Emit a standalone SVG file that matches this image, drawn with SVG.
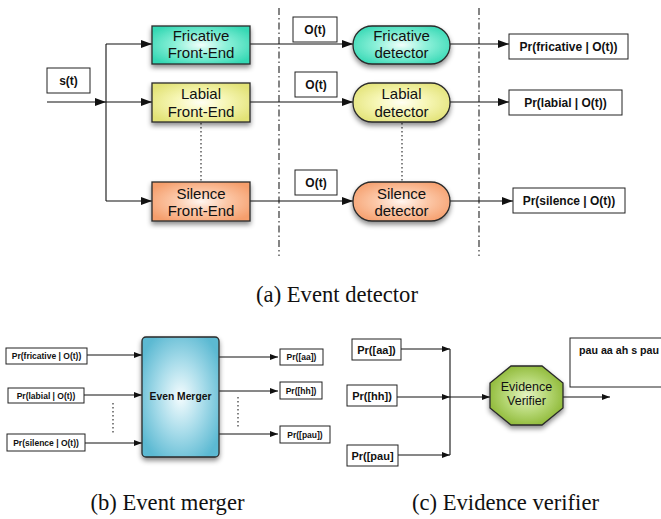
<svg xmlns="http://www.w3.org/2000/svg" width="661" height="519" viewBox="0 0 661 519">
  <style>
    .lbl { font-family: "Liberation Sans", Arial, sans-serif; fill: #111; text-anchor: middle; }
    .big { font-size: 15px; }
    .bold12 { font-size: 12px; font-weight: bold; }
    .bold11 { font-size: 11px; font-weight: bold; }
    .bold8 { font-size: 8.5px; font-weight: bold; }
    .cap { font-family: "Liberation Serif", "Times New Roman", serif; font-size: 22.6px; fill: #111; text-anchor: middle; }
    .tag { fill: #fff; stroke: #222; stroke-width: 1; }
    .shape { stroke: #2a2a2a; stroke-width: 1.3; filter: url(#shadow); }
    .wire { fill: none; stroke: #111; stroke-width: 1.1; }
    .wireA { fill: none; stroke: #111; stroke-width: 1.1; marker-end: url(#arrow); }
    .wireS { fill: none; stroke: #111; stroke-width: 1; marker-end: url(#arrowSmall); }
    .dots { fill: none; stroke: #333; stroke-width: 1.2; stroke-dasharray: 1.5,2.5; }
    .dashdot { fill: none; stroke: #222; stroke-width: 1.1; stroke-dasharray: 7,3,1.5,3; }
  </style>
  <defs>
    <marker id="arrow" markerUnits="userSpaceOnUse" markerWidth="12" markerHeight="10" refX="11" refY="4" orient="auto">
      <path d="M0,0 L11,4 L0,8 z" fill="#111"/>
    </marker>
    <marker id="arrowSmall" markerUnits="userSpaceOnUse" markerWidth="9" markerHeight="8" refX="8" refY="3" orient="auto">
      <path d="M0,0 L8,3 L0,6 z" fill="#111"/>
    </marker>
    <filter id="shadow" x="-20%" y="-20%" width="140%" height="150%">
      <feDropShadow dx="0" dy="3" stdDeviation="2.5" flood-color="#000" flood-opacity="0.45"/>
    </filter>
    <radialGradient id="gTeal" cx="50%" cy="50%" r="60%">
      <stop offset="0" stop-color="#f2fffb"/>
      <stop offset="0.45" stop-color="#8af0d8"/>
      <stop offset="1" stop-color="#36d8b4"/>
    </radialGradient>
    <radialGradient id="gYellow" cx="50%" cy="50%" r="60%">
      <stop offset="0" stop-color="#fffff4"/>
      <stop offset="0.45" stop-color="#f6f6b4"/>
      <stop offset="1" stop-color="#e2e276"/>
    </radialGradient>
    <radialGradient id="gOrange" cx="50%" cy="50%" r="60%">
      <stop offset="0" stop-color="#fff6f0"/>
      <stop offset="0.45" stop-color="#fcc8a8"/>
      <stop offset="1" stop-color="#f59e6c"/>
    </radialGradient>
    <radialGradient id="gBlue" cx="50%" cy="50%" r="60%">
      <stop offset="0" stop-color="#f4fcfe"/>
      <stop offset="0.5" stop-color="#a8dcea"/>
      <stop offset="1" stop-color="#5bb9d2"/>
    </radialGradient>
    <radialGradient id="gGreen" cx="50%" cy="50%" r="60%">
      <stop offset="0" stop-color="#e4f2c2"/>
      <stop offset="0.5" stop-color="#b4d672"/>
      <stop offset="1" stop-color="#86b22a"/>
    </radialGradient>
  </defs>

  <!-- (a) separators between processing stages -->
  <g id="separators">
    <line class="dashdot" x1="279" y1="8" x2="279" y2="256"/>
    <line class="dashdot" x1="479" y1="8" x2="479" y2="256"/>
  </g>

  <g id="connectors">
    <!-- (a) event detector -->
    <line class="wireA" x1="47" y1="102" x2="106" y2="102"/>
    <line class="wire" x1="106" y1="44" x2="106" y2="201"/>
    <line class="wireA" x1="106" y1="44" x2="152" y2="44"/>
    <line class="wireA" x1="106" y1="102" x2="152" y2="102"/>
    <line class="wireA" x1="106" y1="201" x2="152" y2="201"/>
    <line class="wireA" x1="250" y1="44" x2="353" y2="44"/>
    <line class="wireA" x1="250" y1="102" x2="353" y2="102"/>
    <line class="wireA" x1="250" y1="201" x2="353" y2="201"/>
    <line class="wireA" x1="450" y1="44" x2="509" y2="44"/>
    <line class="wireA" x1="450" y1="102" x2="509" y2="102"/>
    <line class="wireA" x1="450" y1="201" x2="513" y2="201"/>
    <line class="dots" x1="201" y1="123" x2="201" y2="182"/>
    <line class="dots" x1="402" y1="123" x2="402" y2="182"/>
    <!-- (b) event merger -->
    <line class="wireS" x1="87" y1="355" x2="142" y2="355"/>
    <line class="wireS" x1="84" y1="395" x2="142" y2="395"/>
    <line class="wireS" x1="85" y1="443" x2="142" y2="443"/>
    <line class="wireS" x1="219" y1="357" x2="278" y2="357"/>
    <line class="wireS" x1="219" y1="391" x2="278" y2="391"/>
    <line class="wireS" x1="219" y1="434" x2="278" y2="434"/>
    <line class="dots" x1="113" y1="403" x2="113" y2="435"/>
    <line class="dots" x1="238" y1="397" x2="238" y2="429"/>
    <!-- (c) evidence verifier -->
    <line class="wireS" x1="401" y1="349" x2="450" y2="349"/>
    <line class="wireS" x1="397" y1="397" x2="450" y2="397"/>
    <line class="wireS" x1="398" y1="455" x2="450" y2="455"/>
    <line class="wire" x1="450" y1="349" x2="450" y2="455"/>
    <line class="wireS" x1="450" y1="397" x2="490" y2="397"/>
    <line class="wireS" x1="563" y1="397" x2="610" y2="397"/>
  </g>

  <!-- (a) event detector -->
  <g id="signal-label">
    <rect class="tag" x="47" y="68" width="43" height="25"/>
    <text class="lbl bold12" x="68.5" y="84.5">s(t)</text>
  </g>

  <g id="fricative-frontend">
    <rect class="shape" x="152" y="26" width="98" height="38" fill="url(#gTeal)"/>
    <text class="lbl big" x="201" y="41">Fricative</text>
    <text class="lbl big" x="201" y="58">Front-End</text>
  </g>
  <g id="labial-frontend">
    <rect class="shape" x="152" y="83" width="98" height="39" fill="url(#gYellow)"/>
    <text class="lbl big" x="201" y="99">Labial</text>
    <text class="lbl big" x="201" y="117">Front-End</text>
  </g>
  <g id="silence-frontend">
    <rect class="shape" x="152" y="182" width="98" height="39" fill="url(#gOrange)"/>
    <text class="lbl big" x="201" y="199">Silence</text>
    <text class="lbl big" x="201" y="216">Front-End</text>
  </g>

  <g id="obs-1">
    <rect class="tag" x="293" y="17" width="44" height="25"/>
    <text class="lbl bold12" x="315" y="34">O(t)</text>
  </g>
  <g id="obs-2">
    <rect class="tag" x="295" y="72" width="42" height="25"/>
    <text class="lbl bold12" x="316" y="89">O(t)</text>
  </g>
  <g id="obs-3">
    <rect class="tag" x="295" y="170" width="42" height="25"/>
    <text class="lbl bold12" x="316" y="187">O(t)</text>
  </g>

  <g id="fricative-detector">
    <rect class="shape" x="353" y="26" width="97" height="38" rx="19" ry="19" fill="url(#gTeal)"/>
    <text class="lbl big" x="401.5" y="41">Fricative</text>
    <text class="lbl big" x="401.5" y="58">detector</text>
  </g>
  <g id="labial-detector">
    <rect class="shape" x="353" y="83" width="97" height="39" rx="19" ry="19" fill="url(#gYellow)"/>
    <text class="lbl big" x="401.5" y="99">Labial</text>
    <text class="lbl big" x="401.5" y="117">detector</text>
  </g>
  <g id="silence-detector">
    <rect class="shape" x="353" y="182" width="97" height="39" rx="19" ry="19" fill="url(#gOrange)"/>
    <text class="lbl big" x="401.5" y="199">Silence</text>
    <text class="lbl big" x="401.5" y="216">detector</text>
  </g>

  <g id="out-fricative">
    <rect class="tag" x="509" y="34" width="119" height="25"/>
    <text class="lbl bold12" x="568.5" y="50.5">Pr(fricative | O(t))</text>
  </g>
  <g id="out-labial">
    <rect class="tag" x="509" y="90" width="113" height="25"/>
    <text class="lbl bold12" x="565.5" y="106.5">Pr(labial | O(t))</text>
  </g>
  <g id="out-silence">
    <rect class="tag" x="513" y="188" width="112" height="25"/>
    <text class="lbl bold12" x="569" y="204.5">Pr(silence | O(t))</text>
  </g>

  <text class="cap" x="337" y="302">(a) Event detector</text>

  <!-- (b) event merger -->
  <g id="in-fricative">
    <rect class="tag" x="6" y="348" width="81" height="16"/>
    <text class="lbl bold8" x="46.5" y="359">Pr(fricative | O(t))</text>
  </g>
  <g id="in-labial">
    <rect class="tag" x="8" y="388" width="76" height="15"/>
    <text class="lbl bold8" x="46" y="398.5">Pr(labial | O(t))</text>
  </g>
  <g id="in-silence">
    <rect class="tag" x="7" y="434" width="78" height="17"/>
    <text class="lbl bold8" x="46" y="445.5">Pr(silence | O(t))</text>
  </g>
  <g id="event-merger">
    <rect class="shape" x="142" y="337" width="77" height="120" rx="4" ry="4" fill="url(#gBlue)"/>
    <text class="lbl" x="180.5" y="400" font-size="10.3" font-weight="bold">Even Merger</text>
  </g>
  <g id="merge-aa">
    <rect class="tag" x="280" y="349" width="43" height="16"/>
    <text class="lbl bold8" x="301.5" y="360">Pr([aa])</text>
  </g>
  <g id="merge-hh">
    <rect class="tag" x="280" y="382" width="42" height="17"/>
    <text class="lbl bold8" x="301" y="393.5">Pr([hh])</text>
  </g>
  <g id="merge-pau">
    <rect class="tag" x="280" y="426" width="50" height="17"/>
    <text class="lbl bold8" x="305" y="437.5">Pr([pau])</text>
  </g>

  <text class="cap" x="167.5" y="510">(b) Event merger</text>

  <!-- (c) evidence verifier -->
  <g id="verify-aa">
    <rect class="tag" x="352" y="339" width="49" height="21"/>
    <text class="lbl bold11" x="376.5" y="353.5">Pr([aa])</text>
  </g>
  <g id="verify-hh">
    <rect class="tag" x="347" y="385" width="50" height="21"/>
    <text class="lbl bold11" x="372" y="399.5">Pr([hh])</text>
  </g>
  <g id="verify-pau">
    <rect class="tag" x="347" y="445" width="51" height="21"/>
    <text class="lbl bold11" x="372.5" y="459.5">Pr([pau]</text>
  </g>
  <g id="evidence-verifier">
    <polygon class="shape" points="511,366 542,366 563,383 563,408 542,425 511,425 490,408 490,383" fill="url(#gGreen)"/>
    <text class="lbl" x="526.5" y="391" font-size="12.5">Evidence</text>
    <text class="lbl" x="526.5" y="405" font-size="12.5">Verifier</text>
  </g>
  <g id="phone-sequence">
    <rect class="tag" x="570" y="338" width="100" height="49"/>
    <text class="lbl" x="579" y="354" font-size="10.5" font-weight="bold" style="text-anchor:start" textLength="80" lengthAdjust="spacingAndGlyphs">pau aa ah s pau</text>
  </g>

  <text class="cap" x="505.5" y="510">(c) Evidence verifier</text>
</svg>
